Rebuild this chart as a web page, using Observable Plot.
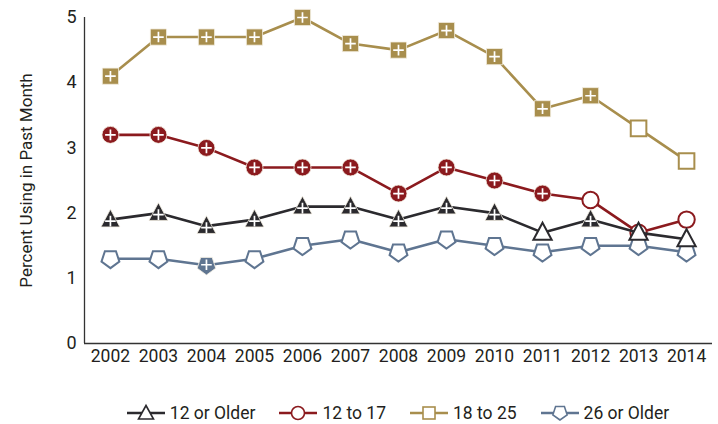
<!DOCTYPE html>
<html>
<head>
<meta charset="utf-8">
<script src="https://cdn.jsdelivr.net/npm/d3@7"></script>
<script src="https://cdn.jsdelivr.net/npm/@observablehq/plot@0.6"></script>
<style>
  html, body { margin: 0; padding: 0; background: #fff; }
  #wrap { width: 718px; height: 424px; position: relative; font-family: Roboto, "Liberation Sans", sans-serif; }
  #legend { display: flex; justify-content: center; align-items: center; box-sizing: border-box;
    width: 718px; padding: 22px 6px 0 84px; height: 44px; gap: 24px; font-size: 17.5px; color: #231f20; }
  .item { display: flex; align-items: center; gap: 5px; }
  .item svg { display: block; }
</style>
</head>
<body>
<div id="wrap"></div>
<script>
// ---- data ----
const years = [2002, 2003, 2004, 2005, 2006, 2007, 2008, 2009, 2010, 2011, 2012, 2013, 2014];
const seriesNames = ["12 or Older", "12 to 17", "18 to 25", "26 or Older"];
const olderThan12 = [1.9, 2.0, 1.8, 1.9, 2.1, 2.1, 1.9, 2.1, 2.0, 1.7, 1.9, 1.7, 1.6];
const age12to17   = [3.2, 3.2, 3.0, 2.7, 2.7, 2.7, 2.3, 2.7, 2.5, 2.3, 2.2, 1.7, 1.9];
const age18to25   = [4.1, 4.7, 4.7, 4.7, 5.0, 4.6, 4.5, 4.8, 4.4, 3.6, 3.8, 3.3, 2.8];
const olderThan26 = [1.3, 1.3, 1.2, 1.3, 1.5, 1.6, 1.4, 1.6, 1.5, 1.4, 1.5, 1.5, 1.4];
// significant difference from 2014 (filled marker with "+")
const sig12plus  = [1,1,1,1,1,1,1,1,1,0,1,0,0];
const sig12to17  = [1,1,1,1,1,1,1,1,1,1,0,0,0];
const sig18to25  = [1,1,1,1,1,1,1,1,1,1,1,0,0];
const sig26plus  = [0,0,1,0,0,0,0,0,0,0,0,0,0];
const yTicks = [0, 1, 2, 3, 4, 5];

const colors = {"12 or Older": "#2b2a2e", "12 to 17": "#8b1a1e", "18 to 25": "#a88e4d", "26 or Older": "#5f7591"};

// ---- custom symbols ----
const rad = s => Math.sqrt(s / Math.PI);
const symSquare = {draw(c, s) { const h = rad(s); c.rect(-h, -h, 2 * h, 2 * h); }};
const symTriangle = {draw(c, s) { const r = rad(s); c.moveTo(0, -1.2 * r); c.lineTo(1.1 * r, 0.85 * r); c.lineTo(-1.1 * r, 0.85 * r); c.closePath(); }};
const symPentagon = {draw(c, s) { const r = rad(s);
  for (let k = 0; k < 5; k++) { const a = Math.PI / 2 + k * 2 * Math.PI / 5; const x = r * Math.cos(a), y = r * Math.sin(a); k ? c.lineTo(x, y) : c.moveTo(x, y); }
  c.closePath(); }};
const symPlus = {draw(c, s) { const r = rad(s); c.moveTo(-r, 0); c.lineTo(r, 0); c.moveTo(0, -r); c.lineTo(0, r); }};

const spec = [
  {name: "18 to 25", values: age18to25, sig: sig18to25, symbol: symSquare, r: 7.8, plusDy: 0},
  {name: "12 to 17", values: age12to17, sig: sig12to17, symbol: "circle", r: 8.2, plusDy: 0},
  {name: "26 or Older", values: olderThan26, sig: sig26plus, symbol: symPentagon, r: 9.4, plusDy: -0.5},
  {name: "12 or Older", values: olderThan12, sig: sig12plus, symbol: symTriangle, r: 8.3, plusDy: 1.5}
];

const marks = [];
for (const s of spec) {
  const rows = years.map((y, i) => ({year: y, value: s.values[i], sig: s.sig[i] === 1, series: s.name}));
  const col = colors[s.name];
  marks.push(Plot.line(rows, {x: "year", y: "value", stroke: col, strokeWidth: 2.6}));
  marks.push(Plot.dot(rows.filter(d => !d.sig), {x: "year", y: "value", symbol: s.symbol, r: s.r, fill: "white", stroke: col, strokeWidth: 2}));
  marks.push(Plot.dot(rows.filter(d => d.sig), {x: "year", y: "value", symbol: s.symbol, r: s.r + 0.3, fill: col, stroke: "#f4efe2", strokeWidth: 0.8}));
  marks.push(Plot.dot(rows.filter(d => d.sig), {x: "year", y: "value", symbol: symPlus, r: 5.3, dy: s.plusDy, fill: "none", stroke: "white", strokeWidth: 1.7}));
}

const chart = Plot.plot({
  width: 718,
  height: 380,
  marginTop: 17,
  marginBottom: 37,
  marginLeft: 84,
  marginRight: 6,
  style: {fontFamily: "Roboto, 'Liberation Sans', sans-serif", fontSize: "17px", color: "#231f20", background: "white"},
  x: {domain: [2001.46, 2014.54]},
  y: {domain: [0, 5]},
  marks: [
    Plot.axisX(years, {tickSize: 0, tickPadding: 6, tickFormat: d => String(d), letterSpacing: 0.6, fontSize: 17.5, label: null}),
    Plot.axisY(yTicks, {tickSize: 0, tickPadding: 8, tickFormat: d => String(d), fontSize: 18, label: null}),
    Plot.text(["Percent Using in Past Month"], {frameAnchor: "left", textAnchor: "middle", dx: -58, rotate: -90, fontSize: 17, letterSpacing: 0.9, fill: "#231f20"}),
    Plot.ruleY([0], {stroke: "#333", strokeWidth: 1.3}),
    Plot.ruleX([2001.46], {stroke: "#333", strokeWidth: 1.3}),
    ...marks
  ]
});
document.getElementById("wrap").appendChild(chart);

// ---- legend ----
const legendSym = {
  "12 or Older": '<path d="M19,2.5 L26.5,16 L11.5,16 Z"/>',
  "12 to 17": '<circle cx="19" cy="10" r="6.5"/>',
  "18 to 25": '<rect x="13" y="4" width="12" height="12"/>',
  "26 or Older": ""
};
(function () {
  const r = 7.5; let pts = [];
  for (let k = 0; k < 5; k++) { const a = Math.PI / 2 + k * 2 * Math.PI / 5; pts.push((19 + r * Math.cos(a)).toFixed(2) + "," + (9.5 + r * Math.sin(a)).toFixed(2)); }
  legendSym["26 or Older"] = '<polygon points="' + pts.join(" ") + '"/>';
})();
const legend = document.createElement("div");
legend.id = "legend";
for (const name of seriesNames) {
  const col = colors[name];
  const item = document.createElement("div");
  item.className = "item";
  item.innerHTML = '<svg width="38" height="20"><line x1="0" x2="38" y1="10" y2="10" stroke="' + col + '" stroke-width="2.6"/>' +
    '<g fill="white" stroke="' + col + '" stroke-width="1.6">' + legendSym[name] + '</g></svg><span>' + name + '</span>';
  legend.appendChild(item);
}
document.getElementById("wrap").appendChild(legend);
</script>
</body>
</html>
